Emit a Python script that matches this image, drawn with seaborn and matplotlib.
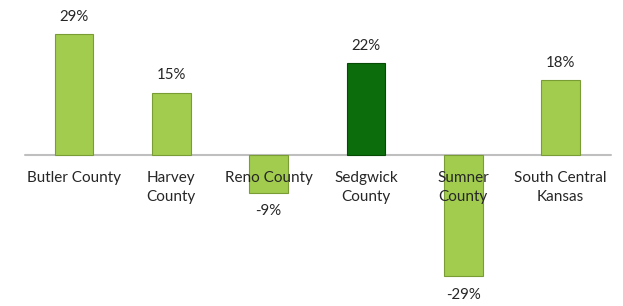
import numpy as np
import pandas as pd
import seaborn as sns
import matplotlib.pyplot as plt

# chart data
regions = ["Butler County", "Harvey\nCounty", "Reno County", "Sedgwick\nCounty",
           "Sumner\nCounty", "South Central\nKansas"]
change_pct = [29, 15, -9, 22, -29, 18]
highlight = ["other", "other", "other", "Sedgwick", "other", "other"]

df = pd.DataFrame({"region": regions, "change": change_pct, "group": highlight})

sns.set_style("white")
plt.rcParams['font.family'] = ['Lato', 'DejaVu Sans']

fig = plt.figure(figsize=(6.23, 3.06), dpi=100)
ax = fig.add_axes([0, 0, 1, 1])

sns.barplot(data=df, x="region", y="change", hue="group",
            palette={"other": "#A2CC4E", "Sedgwick": "#0B6D0B"},
            saturation=1, width=0.4, dodge=False, legend=False, ax=ax,
            edgecolor="#7A9C35", linewidth=0.8, zorder=2)

for bar in ax.patches:
    if bar.get_facecolor()[1] < 0.5:
        bar.set_edgecolor("#064A06")

ax.set_xlim(-0.76, 5.64)
ax.set_ylim(-36.2, 37.2)
ax.axhline(0, xmin=0.04, xmax=0.98, color="#BFBFBF", lw=1.5, zorder=1)

for i, v in enumerate(change_pct):
    off = 4.1 if v >= 0 else -4.5
    ax.text(i, v + off, f"{v}%", ha="center", va="center",
            fontsize=10.8, color="#262626", zorder=5)
    ax.text(i, -3.9, regions[i], ha="center", va="top", fontsize=11,
            color="#262626", linespacing=1.4, zorder=5)

ax.set_xticks([])
ax.set_yticks([])
ax.set_xlabel("")
ax.set_ylabel("")
sns.despine(left=True, bottom=True)

fig.savefig("out.png", dpi=100)
